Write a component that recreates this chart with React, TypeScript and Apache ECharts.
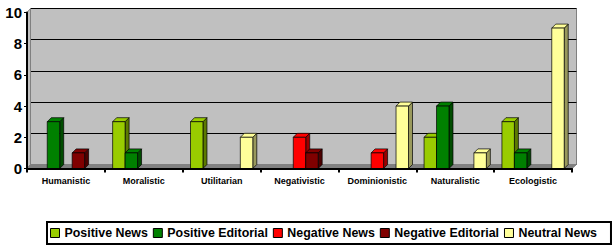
import React, { useEffect, useRef } from "react";
import * as echarts from "echarts";

const categories = ["Humanistic", "Moralistic", "Utilitarian", "Negativistic", "Dominionistic", "Naturalistic", "Ecologistic"];
const seriesNames = ["Positive News", "Positive Editorial", "Negative News", "Negative Editorial", "Neutral News"];
const positiveNews = [0, 3, 3, 0, 0, 2, 3];
const positiveEditorial = [3, 1, 0, 0, 0, 4, 1];
const negativeNews = [0, 0, 0, 2, 1, 0, 0];
const negativeEditorial = [1, 0, 0, 1, 0, 0, 0];
const neutralNews = [0, 0, 2, 0, 4, 1, 9];
const yTicks = [0, 2, 4, 6, 8, 10];

const seriesValues = [positiveNews, positiveEditorial, negativeNews, negativeEditorial, neutralNews];
const frontColors = ["#99CC00", "#008000", "#FF0000", "#800000", "#FFFF99"];
const sideColors = ["#5C7A00", "#004C00", "#990000", "#4C0000", "#99995C"];
const topColors = ["#99CC00", "#008000", "#FF0000", "#800000", "#FFFF99"];

const FRONT = { left: 27, top: 12.5, width: 545, height: 156 };
const DEPTH = 4;

function makeRenderItem(sIdx: number) {
  return (params: any, api: any) => {
    const cat = api.value(0);
    const val = api.value(1);
    if (!val) return null;
    const band = api.size([1, 0])[0];
    const slot = (band * 0.8) / 5;
    const top = api.coord([cat, val]);
    const base = api.coord([cat, 0]);
    const x0 = top[0] - band * 0.4 + slot * sIdx;
    const x1 = x0 + slot;
    const yt = top[1];
    const yb = base[1];
    const d = DEPTH;
    const stroke = { stroke: "#000", lineWidth: 0.7 };
    return {
      type: "group",
      children: [
        {
          type: "polygon",
          shape: { points: [[x1, yt], [x1 + d, yt - d], [x1 + d, yb - d], [x1, yb]] },
          style: { fill: sideColors[sIdx], ...stroke },
        },
        {
          type: "polygon",
          shape: { points: [[x0, yt], [x0 + d, yt - d], [x1 + d, yt - d], [x1, yt]] },
          style: { fill: topColors[sIdx], ...stroke },
        },
        {
          type: "rect",
          shape: { x: x0, y: yt, width: slot, height: yb - yt },
          style: { fill: frontColors[sIdx], ...stroke },
        },
      ],
    };
  };
}

export default function App() {
  const ref = useRef<HTMLDivElement>(null);
  useEffect(() => {
    if (!ref.current) return;
    const chart = echarts.init(ref.current, null, { renderer: "svg" });
    const fl = FRONT.left, ft = FRONT.top, fw = FRONT.width, fh = FRONT.height;
    const option: any = {
      animation: false,
      backgroundColor: "#FFFFFF",
      textStyle: { fontFamily: "Liberation Sans, Arial, sans-serif" },
      grid: [
        { left: fl, top: ft, width: fw, height: fh, show: false },
        {
          left: fl + 3.5,
          top: ft - DEPTH,
          width: fw + 1,
          height: fh,
          show: true,
          backgroundColor: "#C0C0C0",
          borderColor: "#808080",
          borderWidth: 1,
        },
      ],
      xAxis: [
        {
          type: "category",
          gridIndex: 0,
          data: categories,
          z: 5,
          axisLine: { show: true, lineStyle: { color: "#000", width: 2 } },
          axisTick: { show: true, length: 4, lineStyle: { color: "#000", width: 2 } },
          axisLabel: { color: "#000", fontSize: 9, fontWeight: "bold", margin: 8, interval: 0 },
          splitLine: { show: false },
        },
        { type: "category", gridIndex: 1, data: categories, show: false },
      ],
      yAxis: [
        {
          type: "value",
          gridIndex: 0,
          min: 0,
          max: 10,
          interval: 2,
          z: 5,
          axisLine: { show: true, lineStyle: { color: "#000", width: 2 } },
          axisTick: { show: true, length: 3, lineStyle: { color: "#000", width: 1 } },
          axisLabel: {
            color: "#000",
            fontSize: 15,
            fontWeight: 900,
            margin: 5,
            formatter: (v: number) => (yTicks.includes(v) ? String(v) : ""),
          },
          splitLine: { show: false },
        },
        {
          type: "value",
          gridIndex: 1,
          min: 0,
          max: 10,
          interval: 2,
          axisLine: { show: false },
          axisTick: { show: false },
          axisLabel: { show: false },
          splitLine: { show: true, lineStyle: { color: "#000", width: 1 } },
        },
      ],
      graphic: [
        {
          type: "polygon",
          z: 1,
          shape: { points: [[fl, ft], [fl + 3.5, ft - DEPTH], [fl + 3.5, ft + fh - DEPTH], [fl, ft + fh]] },
          style: { fill: "#C0C0C0", stroke: "#808080", lineWidth: 1 },
        },
        {
          type: "polygon",
          z: 1,
          shape: {
            points: [[fl, ft + fh], [fl + 3.5, ft + fh - DEPTH], [fl + fw + 4.5, ft + fh - DEPTH], [fl + fw, ft + fh]],
          },
          style: { fill: "#808080", stroke: "#808080", lineWidth: 1 },
        },
      ],
      legend: {
        show: true,
        left: 47,
        top: 222,
        orient: "horizontal",
        padding: [5, 14, 5, 3],
        itemGap: 5,
        itemWidth: 9,
        itemHeight: 9,
        icon: "rect",
        borderColor: "#000",
        borderWidth: 2,
        backgroundColor: "#FFFFFF",
        itemStyle: { borderColor: "#000", borderWidth: 1 },
        textStyle: { color: "#000", fontSize: 12.4, fontWeight: "bold", fontFamily: "Liberation Sans, Arial, sans-serif" },
        data: seriesNames,
      },
      series: seriesNames.map((name, sIdx) => ({
        type: "custom",
        name,
        xAxisIndex: 0,
        yAxisIndex: 0,
        z: 3,
        itemStyle: { color: frontColors[sIdx] },
        encode: { x: 0, y: 1 },
        renderItem: makeRenderItem(sIdx),
        data: seriesValues[sIdx].map((v, i) => [i, v]),
      })),
    };
    chart.setOption(option);
    return () => chart.dispose();
  }, []);
  return (
    <div style={{ position: "fixed", left: 0, top: 0, width: 613, height: 248, overflow: "hidden", background: "#fff" }}>
      <div ref={ref} style={{ width: 660, height: 248 }} />
    </div>
  );
}
